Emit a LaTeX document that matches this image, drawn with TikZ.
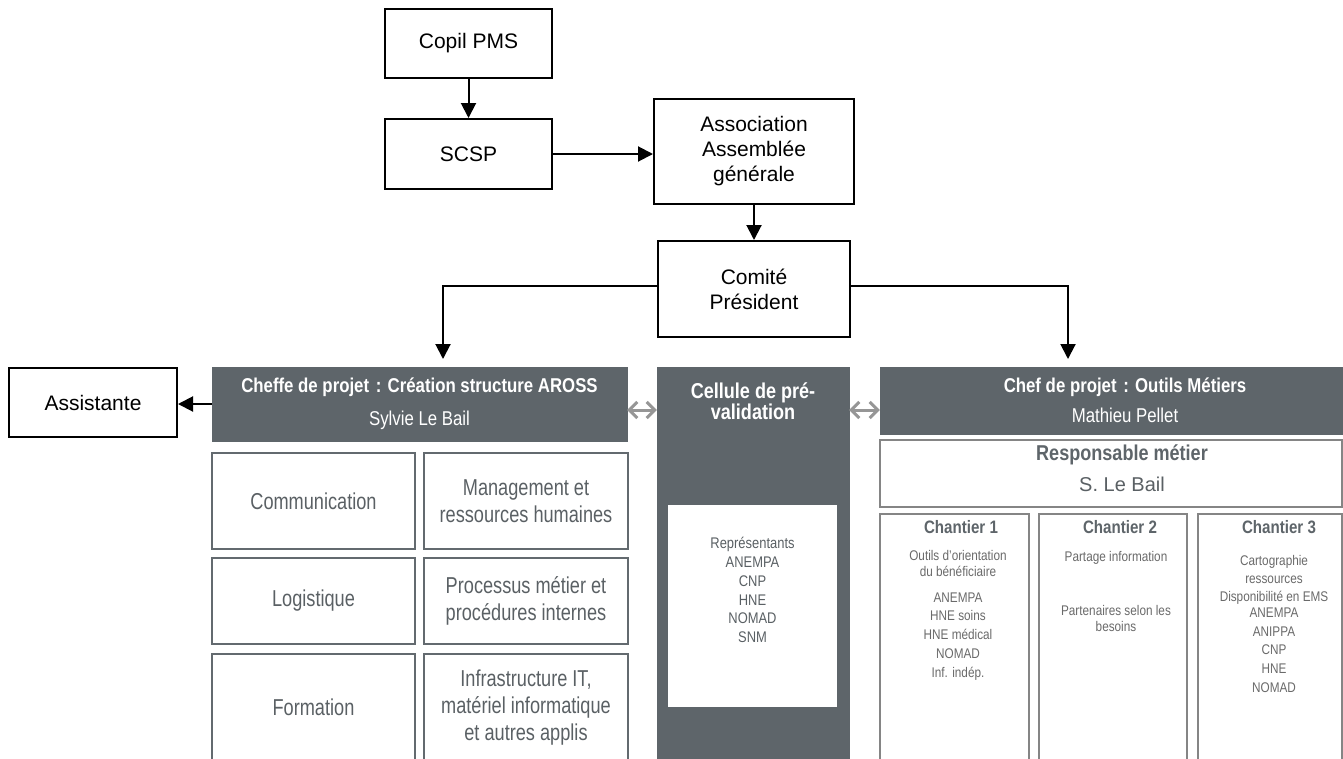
\documentclass[tikz,border=0pt]{standalone}
\usepackage{fontspec}
\setmainfont{Liberation Sans}
\newfontfamily\narrowsf{Liberation Sans}[FakeStretch=0.84]
\newfontfamily\condsf{Liberation Sans}[FakeStretch=0.79]
\usetikzlibrary{arrows.meta}
\definecolor{headgray}{HTML}{5E656A}
\definecolor{boxgray}{HTML}{636A6F}
\definecolor{linegray}{HTML}{858585}
\definecolor{textgray}{HTML}{5A6064}
\definecolor{softgray}{HTML}{6A6A6A}
\definecolor{tipgray}{HTML}{969696}
\begin{document}
\begin{tikzpicture}[x=1pt, y=-1pt,
    arrow/.style = {line width=2pt, -{Triangle[length=15pt,width=15pt]}},
    twoway/.style = {line width=3pt, tipgray,
      {Straight Barb[length=8pt,width=16pt]}-{Straight Barb[length=8pt,width=16pt]}},
    topbox/.style = {draw, line width=2pt, align=center, font=\fontsize{21}{25}\selectfont},
    head/.style = {fill=headgray, draw=headgray, text=white, align=center,
      font=\narrowsf\fontsize{20}{33}\selectfont},
    task/.style = {draw=boxgray, line width=2pt, text=textgray, align=center,
      font=\condsf\fontsize{23}{27}\selectfont},
    site/.style = {draw=linegray, line width=2pt, fill=white},
    txtline/.style = {text height=0.72em, text depth=0pt, inner sep=0pt},
    small/.style = {txtline, text=softgray, font=\narrowsf\fontsize{14}{16}\selectfont},
    sitetitle/.style = {txtline, text=headgray, font=\narrowsf\bfseries\fontsize{18}{20}\selectfont}]
  \clip (0,0) rectangle (1343,758);

  % top of the organisation
  \node[topbox, minimum width=167pt, minimum height=69pt] (copil) at (468.5,43.5) {Copil PMS};
  \node[topbox, minimum width=167pt, minimum height=70pt] (scsp) at (468.5,154) {SCSP};
  \node[topbox, minimum width=200pt, minimum height=105pt] (assoc) at (754,151.5)
    {Association\\Assemblée\\générale};
  \node[topbox, minimum width=192pt, minimum height=96pt] (comite) at (754,289)
    {Comité\\Président};
  \node[topbox, minimum width=168pt, minimum height=69pt] (assist) at (93,402.5) {Assistante};
  \coordinate (lefttip) at (443,359);
  \coordinate (righttip) at (1068,359);

  \draw[arrow] (copil) -- (scsp);
  \draw[arrow] (scsp.east) -- (scsp.east -| assoc.west);
  \draw[arrow] (assoc) -- (comite);
  \draw[arrow] ([yshift=3pt]comite.west) -| (lefttip);
  \draw[arrow] ([yshift=3pt]comite.east) -| (righttip);

  % project AROSS
  \node[head, minimum width=415pt, minimum height=74pt] (aross) at (419.5,404)
    {\textbf{Cheffe de projet\,\,: Création structure AROSS}\\Sylvie Le Bail};
  \draw[arrow] (aross.west) -- (aross.west -| assist.east);

  \node[task, minimum width=203pt, minimum height=96pt] (comm) at (313.5,501) {Communication};
  \node[task, minimum width=204pt, minimum height=96pt] (mgmt) at (526,501)
    {Management et\\ressources humaines};
  \node[task, minimum width=203pt, minimum height=86pt] (logi) at (313.5,601) {Logistique};
  \node[task, minimum width=204pt, minimum height=86pt] (proc) at (526,601)
    {Processus métier et\\procédures internes};
  \node[task, minimum width=203pt, minimum height=107pt] (form) at (313.5,707.5) {Formation};
  \node[task, minimum width=204pt, minimum height=107pt] (infra) at (526,707.5)
    {Infrastructure IT,\\matériel informatique\\et autres applis};

  % cellule
  \node[fill=headgray, draw=headgray, minimum width=192pt, minimum height=410pt,
    anchor=north] (cellule) at (753,367) {};
  \node[align=center, text=white, font=\narrowsf\bfseries\fontsize{21.5}{21}\selectfont]
    (celltitle) at (753,401) {Cellule de pré-\\validation};
  \node[fill=white, minimum width=169pt, minimum height=202pt] (members) at (752.5,606) {};
  \foreach \txt [count=\i] in {Représentants, ANEMPA, CNP, HNE, NOMAD, SNM}
    \node[txtline, text=textgray, font=\narrowsf\fontsize{15.4}{18}\selectfont]
      (member-\i) at (752.5,{545+18.8*(\i-1)}) {\txt};

  % outils metiers
  \node[head, minimum width=490pt, minimum height=67pt, font=\narrowsf\fontsize{20}{30}\selectfont]
    (outils) at (1125,400.5) {\textbf{Chef de projet\,\,: Outils Métiers}\\Mathieu Pellet};
  \draw[twoway] ([yshift=-6pt]aross.east) -- ([yshift=-6pt]aross.east -| cellule.west);
  \draw[twoway] ([yshift=-6pt]aross.east -| cellule.east) -- ([yshift=-6pt]aross.east -| outils.west);

  \node[site, minimum width=462pt, minimum height=67pt] (respo) at (1111,473.5) {};
  \node[txtline, text=headgray, font=\narrowsf\bfseries\fontsize{21.5}{24}\selectfont]
    (respo-title) at (1122,457) {Responsable métier};
  \node[txtline, text=textgray, font=\fontsize{20}{24}\selectfont]
    (respo-name) at (1122,488) {S. Le Bail};

  \node[site, minimum width=149pt, minimum height=270pt, anchor=north] (site1) at (954.5,513) {};
  \node[site, minimum width=148pt, minimum height=270pt, anchor=north] (site2) at (1113,513) {};
  \node[site, minimum width=144pt, minimum height=270pt, anchor=north] (site3) at (1270,513) {};
  \node[sitetitle] (site1-title) at (961,530) {Chantier 1};
  \node[sitetitle] (site2-title) at (1120,530) {Chantier 2};
  \node[sitetitle] (site3-title) at (1279,530) {Chantier 3};

  \foreach \txt/\ypos [count=\i] in {Outils d’orientation/557, du bénéficiaire/573, ANEMPA/599,
      HNE soins/617, HNE médical/636, NOMAD/655, Inf. indép./674}
    \node[small] (site1-\i) at (958,\ypos) {\txt};
  \foreach \txt/\ypos [count=\i] in {Partage information/558, Partenaires selon les/612, besoins/628}
    \node[small] (site2-\i) at (1116,\ypos) {\txt};
  \foreach \txt/\ypos [count=\i] in {Cartographie/562, ressources/580, Disponibilité en EMS/598,
      ANEMPA/614, ANIPPA/633, CNP/651, HNE/670, NOMAD/689}
    \node[small] (site3-\i) at (1274,\ypos) {\txt};
\end{tikzpicture}
\end{document}
